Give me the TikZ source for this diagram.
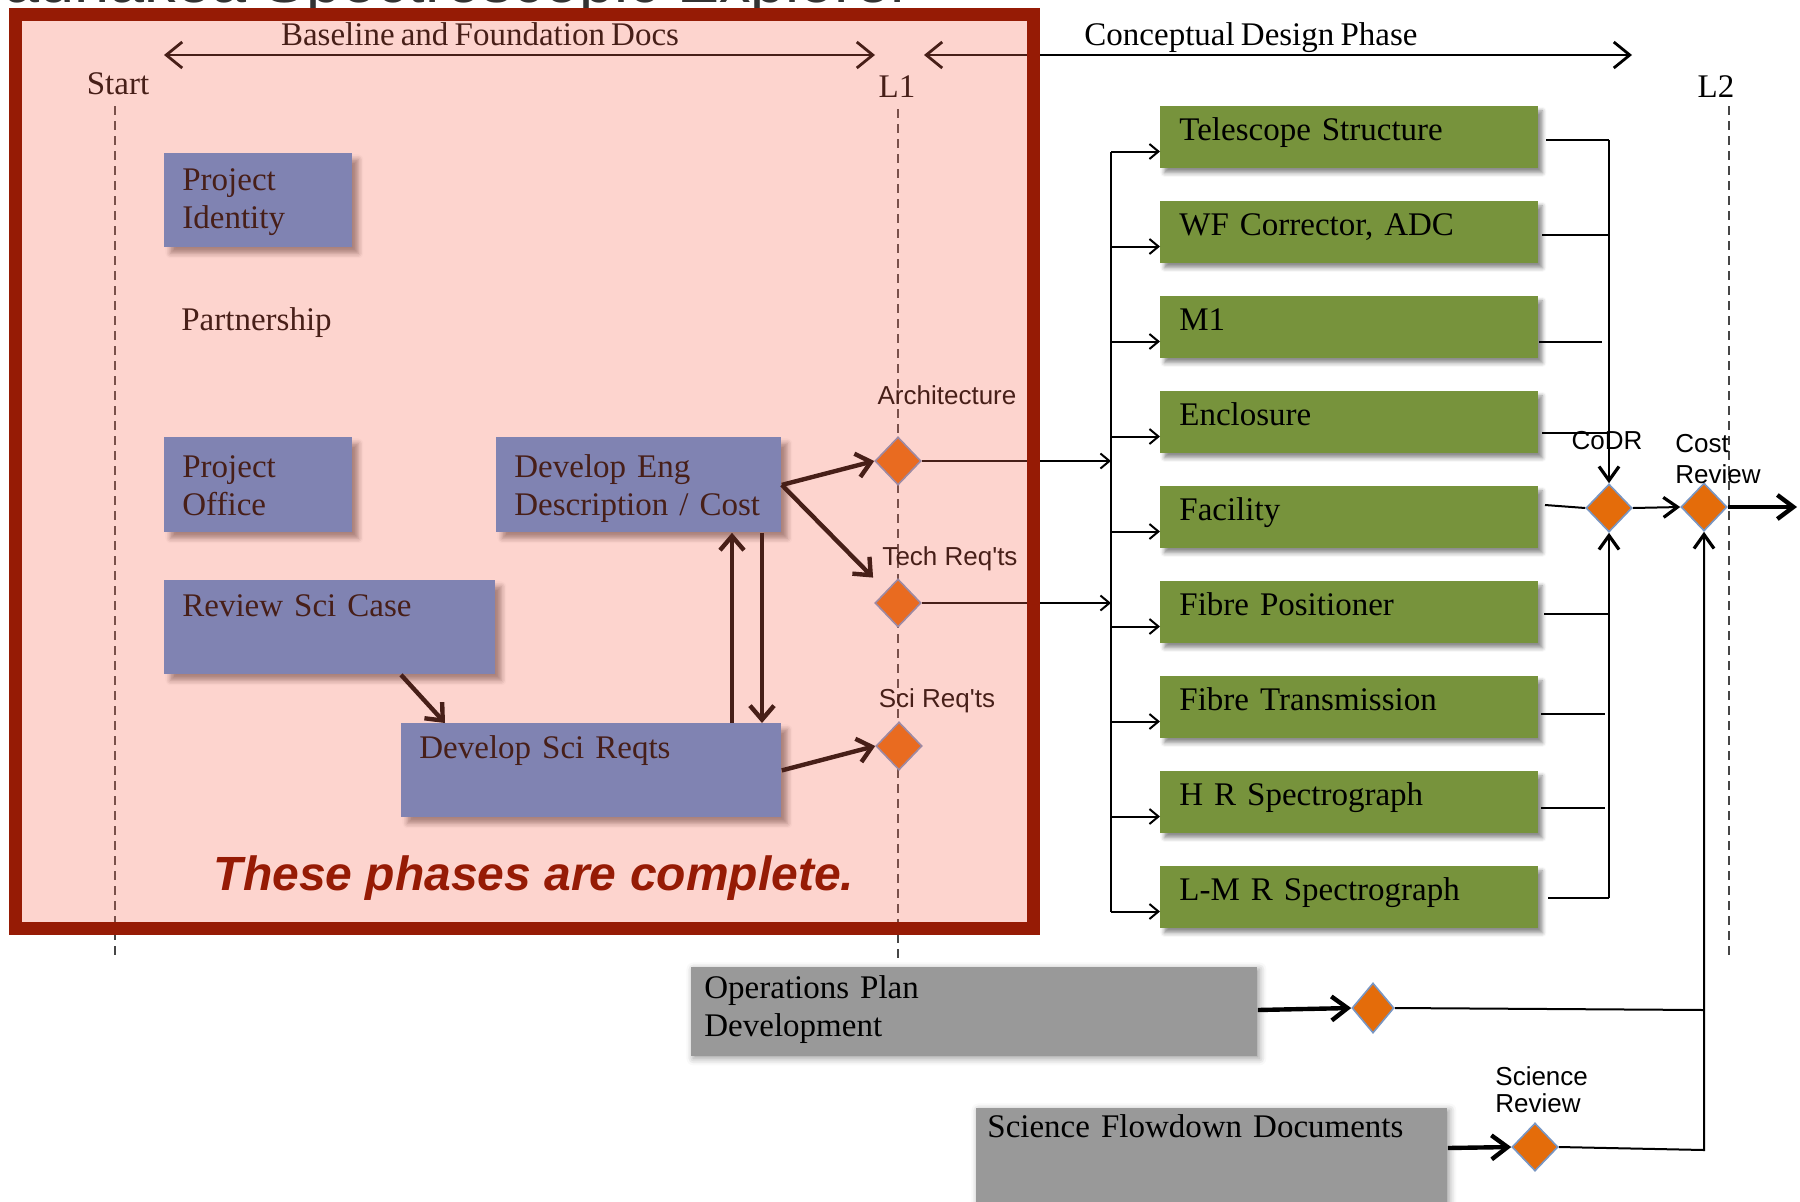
\documentclass[tikz,border=0pt]{standalone}
\usepackage{fontspec}
\setmainfont{Liberation Serif}[WordSpace=0.75]
\newfontfamily\labelsans{Liberation Sans}
\usetikzlibrary{arrows.meta,shapes.geometric,calc,shadows.blur}

\definecolor{overlaypink}{RGB}{248,107,86}
\definecolor{framered}{RGB}{150,27,5}
\definecolor{taskblue}{RGB}{79,141,217}
\definecolor{subgreen}{RGB}{119,147,60}
\definecolor{opsgray}{RGB}{153,153,153}
\definecolor{gateorange}{RGB}{228,108,10}
\definecolor{gateedge}{RGB}{120,150,195}
\definecolor{dashgray}{RGB}{70,70,70}

\tikzset{
  serif text/.style={font=\fontsize{16.5}{19.2}\selectfont},
  phase label/.style={anchor=base, inner sep=0, serif text},
  boxtext/.style={anchor=base west, align=left, text width=300pt, inner sep=0, serif text},
  taskbox/.style={anchor=north west, fill=taskblue, inner sep=0,
    blur shadow={shadow xshift=3pt, shadow yshift=-3pt, shadow blur radius=2.5pt, shadow opacity=45}},
  subbox/.style={anchor=north west, fill=subgreen, inner sep=0,
    minimum width=189pt, minimum height=31pt,
    blur shadow={shadow xshift=2pt, shadow yshift=-2.5pt, shadow blur radius=2pt, shadow opacity=45}},
  opsbox/.style={anchor=north west, fill=opsgray, inner sep=0,
    blur shadow={shadow xshift=1pt, shadow yshift=-1pt, shadow blur radius=3.5pt, shadow opacity=40}},
  gate/.style={diamond, aspect=1, fill=gateorange, draw=gateedge, line width=0.8pt,
    minimum width=23pt, minimum height=24pt, inner sep=0},
  gate label/.style={anchor=base, inner sep=0, font=\labelsans\fontsize{13}{15}\selectfont},
  milestone/.style={dashgray, line width=1pt, dash pattern=on 4.5pt off 3pt},
  phase span/.style={line width=1.4pt,
    {Straight Barb[length=8pt,width=13pt]}-{Straight Barb[length=8pt,width=13pt]}},
  plain link/.style={line width=1pt},
  thin link/.style={line width=1pt, -{Straight Barb[length=4.5pt,width=7.5pt]}},
  gate link/.style={line width=1pt, -{Straight Barb[length=7pt,width=10pt,line width=1.6pt]}},
  bold link/.style={line width=2.2pt, -{Straight Barb[length=7pt,width=12pt]}},
  exit link/.style={line width=2.2pt, -{Straight Barb[length=8pt,width=12pt]}},
}

\begin{document}
\begin{tikzpicture}[x=0.5pt,y=-0.5pt]
\useasboundingbox (0,0) rectangle (1800,1201);

% heading strip, mostly hidden behind the frame
\node[anchor=base west, inner sep=0, font=\labelsans\fontsize{31.5}{34}\selectfont, text=black!80]
  (heading) at (-48,2) {Maunakea Spectroscopic Explorer};

% milestone lines
\coordinate (start-top) at (115,106); \coordinate (start-bot) at (115,959);
\coordinate (l1-top) at (898,109);    \coordinate (l1-bot) at (898,962);
\coordinate (l2-top) at (1729,106);   \coordinate (l2-bot) at (1729,959);
\draw[milestone] (start-top) -- (start-bot);
\draw[milestone] (l1-top) -- (l1-bot);
\draw[milestone] (l2-top) -- (l2-bot);

\node[phase label] (start-lbl) at (118,94) {Start};
\node[phase label] (l1-lbl) at (897,97) {L1};
\node[phase label] (l2-lbl) at (1716,97) {L2};

% phase spans
\node[phase label] (base-lbl) at (480,45) {Baseline and Foundation Docs};
\node[phase label] (cdp-lbl) at (1251,45) {Conceptual Design Phase};
\coordinate (bf-l) at (164,55); \coordinate (bf-r) at (875,55);
\coordinate (cd-l) at (924,55); \coordinate (cd-r) at (1632,55);
\draw[phase span] (bf-l) -- (bf-r);
\draw[phase span] (cd-l) -- (cd-r);

% baseline tasks
\node[taskbox, minimum width=94pt, minimum height=47pt] (ident) at (164,153) {};
\node[boxtext] (ident-t) at ($(ident.north west)+(18,37)$) {Project\\Identity};
\node[boxtext] (partner) at (181,330) {Partnership};
\node[taskbox, minimum width=94pt, minimum height=47.5pt] (office) at (164,437) {};
\node[boxtext] (office-t) at ($(office.north west)+(18,40)$) {Project\\Office};
\node[taskbox, minimum width=165.5pt, minimum height=47pt] (scicase) at (164,580) {};
\node[boxtext] (scicase-t) at ($(scicase.north west)+(18,36)$) {Review Sci Case};
\node[taskbox, minimum width=142.5pt, minimum height=47.5pt] (engdesc) at (496,437) {};
\node[boxtext] (engdesc-t) at ($(engdesc.north west)+(18,40)$) {Develop Eng\\Description / Cost};
\node[taskbox, minimum width=190pt, minimum height=47pt] (scireq) at (401,723) {};
\node[boxtext] (scireq-t) at ($(scireq.north west)+(18,35)$) {Develop Sci Reqts};

% L1 gates
\node[gate] (arch) at (898,461) {};
\node[gate] (tech) at (898,603) {};
\node[gate] (sci) at (899,746) {};
\node[gate label] (arch-lbl) at (947,404) {Architecture};
\node[gate label] (tech-lbl) at (950,565) {Tech Req'ts};
\node[gate label] (sci-lbl) at (937,707) {Sci Req'ts};

\draw[bold link] (engdesc.east) -- (arch.west);
\draw[bold link] (engdesc.east) -- ($(tech.north west)+(-13,-13)$);
\draw[bold link] (scireq.east) -- (sci.west);
\draw[bold link] ($(scicase.south west)+(237,0)$) -- ($(scireq.north west)+(44,0)$);
\draw[bold link] ($(scireq.north west)+(331,0)$) -- ($(engdesc.south west)+(236,0)$);
\draw[bold link] ($(engdesc.south west)+(266,0)$) -- ($(scireq.north west)+(361,0)$);

% distribution bus
\coordinate (bus-arch) at (1111,461);
\coordinate (bus-tech) at (1111,603);
\draw[thin link] (arch.east) -- (bus-arch);
\draw[thin link] (tech.east) -- (bus-tech);
\coordinate (lbus-top) at (1111,151.5);
\coordinate (lbus-bot) at (1111,911.5);
\draw[plain link] (lbus-top) -- (lbus-bot);

% subsystem boxes
\node[subbox] (tel) at (1160,105.5) {};
\node[boxtext] (tel-t) at ($(tel.north west)+(19,35)$) {Telescope Structure};
\node[subbox] (wfc) at (1160,200.5) {};
\node[boxtext] (wfc-t) at ($(wfc.north west)+(19,35)$) {WF Corrector, ADC};
\node[subbox] (mone) at (1160,295.5) {};
\node[boxtext] (mone-t) at ($(mone.north west)+(19,35)$) {M1};
\node[subbox] (encl) at (1160,390.5) {};
\node[boxtext] (encl-t) at ($(encl.north west)+(19,35)$) {Enclosure};
\node[subbox] (fac) at (1160,485.5) {};
\node[boxtext] (fac-t) at ($(fac.north west)+(19,35)$) {Facility};
\node[subbox] (fpos) at (1160,580.5) {};
\node[boxtext] (fpos-t) at ($(fpos.north west)+(19,35)$) {Fibre Positioner};
\node[subbox] (ftra) at (1160,675.5) {};
\node[boxtext] (ftra-t) at ($(ftra.north west)+(19,35)$) {Fibre Transmission};
\node[subbox] (hrs) at (1160,770.5) {};
\node[boxtext] (hrs-t) at ($(hrs.north west)+(19,35)$) {H R Spectrograph};
\node[subbox] (lmrs) at (1160,865.5) {};
\node[boxtext] (lmrs-t) at ($(lmrs.north west)+(19,35)$) {L-M R Spectrograph};

\foreach \b in {tel,wfc,mone,encl,fac,fpos,ftra,hrs,lmrs}{
  \coordinate (\b-in) at ($(\b.north west)+(0,46)$);
  \draw[thin link] (lbus-top |- \b-in) -- (\b-in);
}

% CoDR and cost review gates
\node[gate] (codr) at (1609,508) {};
\node[gate] (cost) at (1704,507) {};
\node[gate label] (codr-lbl) at (1607,449) {CoDR};
\node[gate label, anchor=base west, align=left, text width=60pt,
  font=\labelsans\fontsize{13}{15.5}\selectfont] (cost-lbl) at (1675,452) {Cost\\Review};

\coordinate (rbus-top) at (1609,140);
\coordinate (rbus-bot) at (1609,898);
\coordinate (tel-out) at (1546,140);
\coordinate (wfc-out) at (1542,235);
\coordinate (mone-out) at (1539,342);
\coordinate (mone-end) at (1602,342);
\coordinate (encl-out) at (1542,433);
\coordinate (fac-out) at (1545,505);
\coordinate (fpos-out) at (1544,614);
\coordinate (ftra-out) at (1541,714);
\coordinate (ftra-end) at (1605,714);
\coordinate (hrs-out) at (1541,808);
\coordinate (hrs-end) at (1605,808);
\coordinate (lmrs-out) at (1548,898);

\draw[plain link] (tel-out) -- (rbus-top);
\draw[plain link] (wfc-out) -- (rbus-top |- wfc-out);
\draw[plain link] (mone-out) -- (mone-end);
\draw[plain link] (encl-out) -- (rbus-top |- encl-out);
\draw[plain link] (fac-out) -- (codr.west);
\draw[plain link] (fpos-out) -- (rbus-top |- fpos-out);
\draw[plain link] (ftra-out) -- (ftra-end);
\draw[plain link] (hrs-out) -- (hrs-end);
\draw[plain link] (lmrs-out) -- (rbus-bot);
\draw[gate link] (rbus-top) -- (codr.north);
\draw[gate link] (rbus-bot) -- (codr.south);
\draw[gate link] (codr.east) -- (cost.west);
\coordinate (exit) at (1797,507);
\draw[exit link] (cost.east) -- (exit);

% operations and science flowdown
\node[opsbox, minimum width=283pt, minimum height=44.5pt] (ops) at (691,967) {};
\node[boxtext] (ops-t) at ($(ops.north west)+(13,31)$) {Operations Plan\\Development};
\node[gate, minimum width=21pt, minimum height=25pt] (opsg) at (1373,1008) {};
\node[opsbox, minimum width=235.5pt, minimum height=50pt] (flow) at (976,1108) {};
\node[boxtext] (flow-t) at ($(flow.north west)+(11,29)$) {Science Flowdown Documents};
\node[gate] (scirev) at (1535,1147) {};
\node[gate label, anchor=base west, align=left, text width=60pt,
  font=\labelsans\fontsize{13}{13.5}\selectfont] (scirev-lbl) at (1495,1085) {Science\\Review};

\coordinate (ops-out) at ($(ops.north east)+(0,43)$);
\coordinate (flow-out) at ($(flow.north east)+(0,40)$);
\draw[exit link] (ops-out) -- (opsg.west);
\draw[exit link] (flow-out) -- (scirev.west);
\coordinate (cbus-ops) at (1704,1010);
\coordinate (cbus-bot) at (1704,1150);
\draw[plain link] (opsg.east) -- (cbus-ops);
\draw[gate link] (scirev.east) -- (cbus-bot) -- (cost.south);

% completed phases: tinted panel with frame
\fill[overlaypink, opacity=0.29] (15,14) rectangle (1033,928);
\draw[framered, line width=6.5pt] (15,14) rectangle (1033,928);
\node[anchor=base, inner sep=0, text=framered,
  font=\labelsans\bfseries\itshape\fontsize{24}{28}\selectfont] (done) at (534,890)
  {These phases are complete.};
\end{tikzpicture}
\end{document}
